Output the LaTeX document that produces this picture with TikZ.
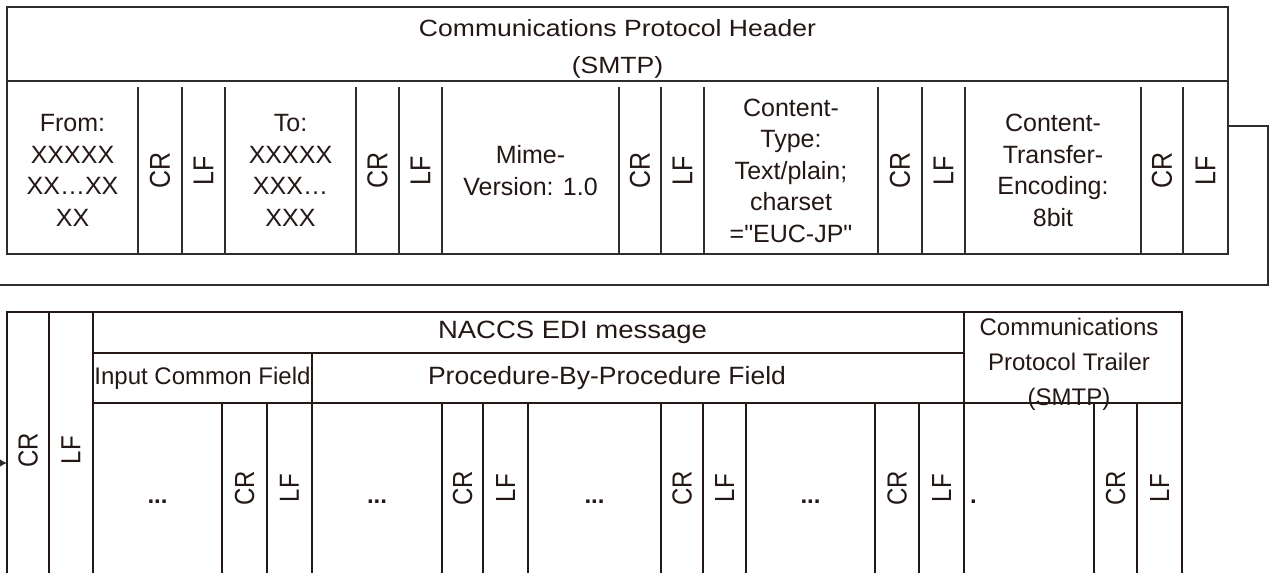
\documentclass[tikz,border=0pt]{standalone}
\usepackage{fontspec}
\setmainfont{Liberation Sans}[Ligatures=TeXOff]
\usepackage{graphicx}
\usetikzlibrary{arrows.meta, positioning, calc}

\definecolor{ink}{RGB}{35,24,21}
\definecolor{topink}{RGB}{45,45,45}

\newcommand{\vtext}[1]{\rotatebox{90}{\scalebox{1}[1.15]{#1}}}

\begin{document}
\begin{tikzpicture}[
    x=1pt, y=-1pt,
    node distance=0pt,
    slot/.style={
        minimum width=#1,
        minimum height=167,
        inner sep=0pt,
        outer sep=0pt,
        align=center,
        text=ink,
        font=\fontsize{25}{31.5}\selectfont
    },
    lowslot/.style={slot=#1, minimum height=170, font=\fontsize{24}{31.5}\selectfont},
    dotslot/.style={lowslot=#1, text height=30pt, text depth=0pt, font=\fontsize{24}{31.5}\selectfont\bfseries},
    field/.style={
        rectangle,
        draw=#1,
        line width=2pt,
        inner sep=0pt,
        outer sep=0pt,
        align=center,
        text=ink,
        font=\fontsize{24}{35}\selectfont
    },
    heading/.style={text=ink, align=center, inner sep=0pt},
    divider/.style={draw=#1, line width=2pt},
    arrow/.style={->, >={Latex[length=8pt, width=9pt]}, line width=2pt, draw=topink}
]
    \useasboundingbox (0,0) rectangle (1271,573);

    % header block
    \node[field=topink, minimum width=1221, minimum height=74, anchor=north west] (title) at (7,7) {};
    \node[field=topink, minimum width=1221, minimum height=173, anchor=north west] (fields) at (title.south west) {};
    \node[heading, font=\fontsize{23.5}{37}\selectfont, xscale=1.13] (titletxt) at ([yshift=-4.5pt]title.center)
        {Communications Protocol Header\\(SMTP)};

    \node[slot=131, anchor=north west] (from) at ([yshift=-6pt]fields.north west) {From:\\XXXXX\\XX…XX\\XX};
    \node[slot=44, right=of from] (fromcr) {\vtext{CR}};
    \node[slot=43, right=of fromcr] (fromlf) {\vtext{LF}};
    \node[slot=131, right=of fromlf] (to) {To:\\XXXXX\\XXX…\\XXX};
    \node[slot=43, right=of to] (tocr) {\vtext{CR}};
    \node[slot=43, right=of tocr] (tolf) {\vtext{LF}};
    \node[slot=177, right=of tolf] (mime) {Mime-\\Version: 1.0};
    \node[slot=42, right=of mime] (mimecr) {\vtext{CR}};
    \node[slot=43, right=of mimecr] (mimelf) {\vtext{LF}};
    \node[slot=174, right=of mimelf] (ctype) {Content-\\Type:\\Text/plain;\\charset\\="EUC-JP"};
    \node[slot=44, right=of ctype] (ctypecr) {\vtext{CR}};
    \node[slot=43, right=of ctypecr] (ctypelf) {\vtext{LF}};
    \node[slot=176, right=of ctypelf] (cte) {Content-\\Transfer-\\Encoding:\\8bit};
    \node[slot=42, right=of cte] (ctecr) {\vtext{CR}};
    \node[slot=45, right=of ctecr] (ctelf) {\vtext{LF}};

    \draw[divider=topink]
        (from.north east) -- (from.south east)
        (fromcr.north east) -- (fromcr.south east)
        (fromlf.north east) -- (fromlf.south east)
        (to.north east) -- (to.south east)
        (tocr.north east) -- (tocr.south east)
        (tolf.north east) -- (tolf.south east)
        (mime.north east) -- (mime.south east)
        (mimecr.north east) -- (mimecr.south east)
        (mimelf.north east) -- (mimelf.south east)
        (ctype.north east) -- (ctype.south east)
        (ctypecr.north east) -- (ctypecr.south east)
        (ctypelf.north east) -- (ctypelf.south east)
        (cte.north east) -- (cte.south east)
        (ctecr.north east) -- (ctecr.south east);

    % message block
    \node[lowslot=42, minimum height=261, text height=50pt, anchor=north west] (bcr) at (7,312) {\vtext{CR}};
    \node[lowslot=44, minimum height=261, text height=43pt, right=of bcr] (blf) {\vtext{LF}};
    \node[field=ink, minimum width=871, minimum height=41, anchor=north west] (naccs) at (blf.north east) {};
    \node[field=ink, minimum width=219, minimum height=50, anchor=north west] (icf) at (naccs.south west) {Input Common Field};
    \node[field=ink, minimum width=652, minimum height=50, right=of icf] (pbp) {};
    \node[field=ink, minimum width=218, minimum height=91, anchor=north west] (trailer) at (naccs.north east) {};
    \node[heading, font=\fontsize{25}{35}\selectfont, xscale=1.1] (naccstxt) at ([xshift=44pt]naccs.center) {NACCS EDI message};
    \node[heading, font=\fontsize{25}{35}\selectfont, xscale=1.06] (pbptxt) at ([xshift=-31pt]pbp.center) {Procedure-By-Procedure Field};
    \node[heading, font=\fontsize{24}{35}\selectfont] (trailertxt) at ([xshift=-4pt,yshift=-6.5pt]trailer.center)
        {Communications\\Protocol Trailer\\(SMTP)};

    \node[dotslot=129, anchor=north west] (dots1) at (icf.south west) {...};
    \node[lowslot=45, right=of dots1] (cr1) {\vtext{CR}};
    \node[lowslot=45, right=of cr1] (lf1) {\vtext{LF}};
    \node[dotslot=130, right=of lf1] (dots2) {...};
    \node[lowslot=41, right=of dots2] (cr2) {\vtext{CR}};
    \node[lowslot=45, right=of cr2] (lf2) {\vtext{LF}};
    \node[dotslot=133, right=of lf2] (dots3) {...};
    \node[lowslot=42, right=of dots3] (cr3) {\vtext{CR}};
    \node[lowslot=43, right=of cr3] (lf3) {\vtext{LF}};
    \node[dotslot=129, right=of lf3] (dots4) {...};
    \node[lowslot=44, right=of dots4] (cr4) {\vtext{CR}};
    \node[lowslot=45, right=of cr4] (lf4) {\vtext{LF}};
    \node[dotslot=130, text width=118pt, inner xsep=6pt, align=left, right=of lf4] (tail) {.};
    \node[lowslot=43, right=of tail] (cr5) {\vtext{CR}};
    \node[lowslot=45, right=of cr5] (lf5) {\vtext{LF}};

    \draw[divider=ink]
        (bcr.south west) -- (bcr.north west) -- (blf.north east) -- (blf.south east)
        (bcr.north east) -- (bcr.south east)
        (dots1.north east) -- (dots1.south east)
        (cr1.north east) -- (cr1.south east)
        (lf1.north east) -- (lf1.south east)
        (dots2.north east) -- (dots2.south east)
        (cr2.north east) -- (cr2.south east)
        (lf2.north east) -- (lf2.south east)
        (dots3.north east) -- (dots3.south east)
        (cr3.north east) -- (cr3.south east)
        (lf3.north east) -- (lf3.south east)
        (dots4.north east) -- (dots4.south east)
        (cr4.north east) -- (cr4.south east)
        (lf4.north east) -- (lf4.south east)
        (tail.north east) -- (tail.south east)
        (cr5.north east) -- (cr5.south east)
        (lf5.north east) -- (lf5.south east);

    % header continues into message
    \draw[arrow] ([yshift=41.5pt]fields.east) -- ++(40,0) |- (-3,285) |- ([yshift=-20.5pt]bcr.west);
\end{tikzpicture}
\end{document}
